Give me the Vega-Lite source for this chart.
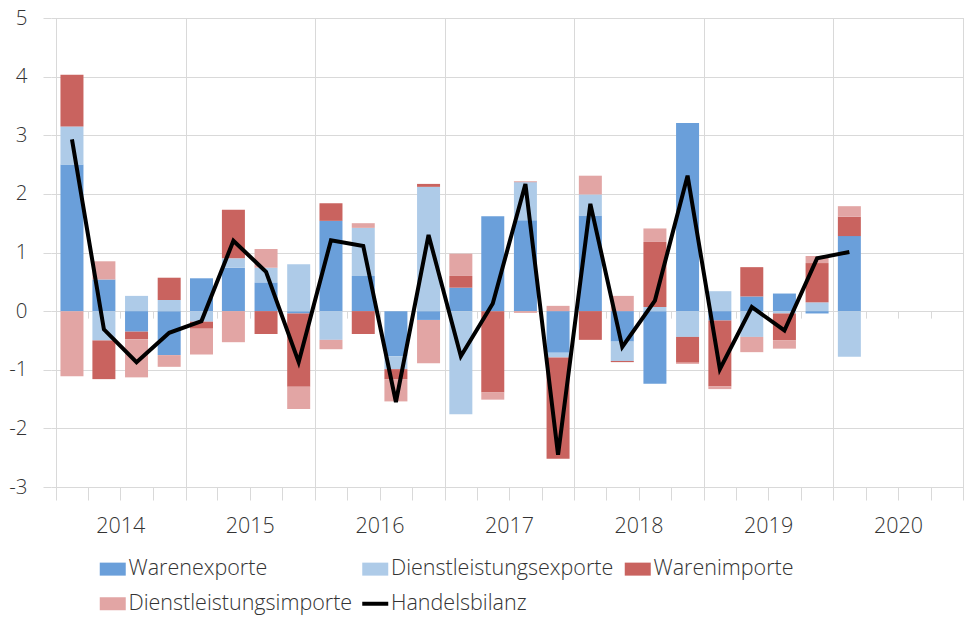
{
  "$schema": "https://vega.github.io/schema/vega-lite/v6.json",
  "width": 913,
  "height": 469,
  "autosize": {"type": "none"},
  "padding": {"left": 51, "top": 18, "right": 0, "bottom": 131},
  "background": "white",
  "config": {
    "view": {"stroke": null},
    "font": "Open Sans",
    "axis": {"labelFont": "Open Sans", "labelFontSize": 20.5, "labelColor": "#333333", "labelFontWeight": 300, "title": null},
    "legend": {"labelFont": "Open Sans", "labelFontSize": 21.5, "labelColor": "#333333", "labelFontWeight": 300, "labelLimit": 500}
  },
  "datasets": {
    "stackorder": [
      {"series": "Warenexporte", "rank": 1},
      {"series": "Dienstleistungsexporte", "rank": 2},
      {"series": "Warenimporte", "rank": 3},
      {"series": "Dienstleistungsimporte", "rank": 4}
    ]
  },
  "data": {
    "values": [
      {"q": "2014-02-15", "Warenexporte": 2.50, "Dienstleistungsexporte": 0.65, "Warenimporte": 0.88, "Dienstleistungsimporte": -1.11, "Handelsbilanz": 2.93},
      {"q": "2014-05-16", "Warenexporte": 0.54, "Dienstleistungsexporte": -0.50, "Warenimporte": -0.66, "Dienstleistungsimporte": 0.31, "Handelsbilanz": -0.31},
      {"q": "2014-08-16", "Warenexporte": -0.35, "Dienstleistungsexporte": 0.26, "Warenimporte": -0.13, "Dienstleistungsimporte": -0.65, "Handelsbilanz": -0.87},
      {"q": "2014-11-16", "Warenexporte": -0.75, "Dienstleistungsexporte": 0.19, "Warenimporte": 0.38, "Dienstleistungsimporte": -0.20, "Handelsbilanz": -0.37},
      {"q": "2015-02-15", "Warenexporte": 0.56, "Dienstleistungsexporte": -0.18, "Warenimporte": -0.12, "Dienstleistungsimporte": -0.44, "Handelsbilanz": -0.17},
      {"q": "2015-05-16", "Warenexporte": 0.74, "Dienstleistungsexporte": 0.16, "Warenimporte": 0.83, "Dienstleistungsimporte": -0.53, "Handelsbilanz": 1.20},
      {"q": "2015-08-16", "Warenexporte": 0.49, "Dienstleistungsexporte": 0.25, "Warenimporte": -0.39, "Dienstleistungsimporte": 0.32, "Handelsbilanz": 0.67},
      {"q": "2015-11-16", "Warenexporte": -0.04, "Dienstleistungsexporte": 0.80, "Warenimporte": -1.25, "Dienstleistungsimporte": -0.38, "Handelsbilanz": -0.87},
      {"q": "2016-02-15", "Warenexporte": 1.54, "Dienstleistungsexporte": -0.49, "Warenimporte": 0.30, "Dienstleistungsimporte": -0.16, "Handelsbilanz": 1.21},
      {"q": "2016-05-16", "Warenexporte": 0.60, "Dienstleistungsexporte": 0.82, "Warenimporte": -0.39, "Dienstleistungsimporte": 0.08, "Handelsbilanz": 1.11},
      {"q": "2016-08-16", "Warenexporte": -0.77, "Dienstleistungsexporte": -0.22, "Warenimporte": -0.17, "Dienstleistungsimporte": -0.38, "Handelsbilanz": -1.55},
      {"q": "2016-11-16", "Warenexporte": -0.15, "Dienstleistungsexporte": 2.12, "Warenimporte": 0.05, "Dienstleistungsimporte": -0.74, "Handelsbilanz": 1.30},
      {"q": "2017-02-15", "Warenexporte": 0.40, "Dienstleistungsexporte": -1.76, "Warenimporte": 0.20, "Dienstleistungsimporte": 0.38, "Handelsbilanz": -0.77},
      {"q": "2017-05-16", "Warenexporte": 1.62, "Dienstleistungsexporte": 0.00, "Warenimporte": -1.39, "Dienstleistungsimporte": -0.12, "Handelsbilanz": 0.13},
      {"q": "2017-08-16", "Warenexporte": 1.55, "Dienstleistungsexporte": 0.65, "Warenimporte": 0.01, "Dienstleistungsimporte": -0.03, "Handelsbilanz": 2.17},
      {"q": "2017-11-16", "Warenexporte": -0.71, "Dienstleistungsexporte": -0.08, "Warenimporte": -1.73, "Dienstleistungsimporte": 0.09, "Handelsbilanz": -2.45},
      {"q": "2018-02-15", "Warenexporte": 1.63, "Dienstleistungsexporte": 0.36, "Warenimporte": -0.49, "Dienstleistungsimporte": 0.32, "Handelsbilanz": 1.83},
      {"q": "2018-05-16", "Warenexporte": -0.52, "Dienstleistungsexporte": -0.33, "Warenimporte": -0.02, "Dienstleistungsimporte": 0.26, "Handelsbilanz": -0.61},
      {"q": "2018-08-16", "Warenexporte": -1.24, "Dienstleistungsexporte": 0.07, "Warenimporte": 1.11, "Dienstleistungsimporte": 0.23, "Handelsbilanz": 0.18},
      {"q": "2018-11-16", "Warenexporte": 3.21, "Dienstleistungsexporte": -0.44, "Warenimporte": -0.44, "Dienstleistungsimporte": -0.02, "Handelsbilanz": 2.31},
      {"q": "2019-02-15", "Warenexporte": -0.16, "Dienstleistungsexporte": 0.34, "Warenimporte": -1.12, "Dienstleistungsimporte": -0.05, "Handelsbilanz": -0.99},
      {"q": "2019-05-16", "Warenexporte": 0.25, "Dienstleistungsexporte": -0.44, "Warenimporte": 0.50, "Dienstleistungsimporte": -0.26, "Handelsbilanz": 0.07},
      {"q": "2019-08-16", "Warenexporte": 0.30, "Dienstleistungsexporte": -0.04, "Warenimporte": -0.46, "Dienstleistungsimporte": -0.14, "Handelsbilanz": -0.33},
      {"q": "2019-11-16", "Warenexporte": -0.04, "Dienstleistungsexporte": 0.15, "Warenimporte": 0.67, "Dienstleistungsimporte": 0.12, "Handelsbilanz": 0.90},
      {"q": "2020-02-15", "Warenexporte": 1.28, "Dienstleistungsexporte": -0.78, "Warenimporte": 0.33, "Dienstleistungsimporte": 0.18, "Handelsbilanz": 1.01}
    ]
  },
  "layer": [
    {
      "transform": [
        {"fold": ["Warenexporte", "Dienstleistungsexporte", "Warenimporte", "Dienstleistungsimporte"], "as": ["series", "value"]},
        {"lookup": "series", "from": {"data": {"name": "stackorder"}, "key": "series", "fields": ["rank"]}}
      ],
      "mark": {"type": "bar", "width": 23},
      "encoding": {
        "x": {
          "field": "q", "type": "temporal",
          "scale": {"type": "utc", "domain": [{"year": 2014, "month": 1, "date": 1, "utc": true}, {"year": 2020, "month": 12, "date": 20, "utc": true}]},
          "axis": {
            "orient": "bottom",
            "values": [
              {"year": 2014, "month": 4, "date": 1, "utc": true}, {"year": 2014, "month": 7, "date": 1, "utc": true}, {"year": 2014, "month": 10, "date": 1, "utc": true},
              {"year": 2015, "month": 1, "date": 1, "utc": true}, {"year": 2015, "month": 4, "date": 1, "utc": true}, {"year": 2015, "month": 7, "date": 1, "utc": true}, {"year": 2015, "month": 10, "date": 1, "utc": true},
              {"year": 2016, "month": 1, "date": 1, "utc": true}, {"year": 2016, "month": 4, "date": 1, "utc": true}, {"year": 2016, "month": 7, "date": 1, "utc": true}, {"year": 2016, "month": 10, "date": 1, "utc": true},
              {"year": 2017, "month": 1, "date": 1, "utc": true}, {"year": 2017, "month": 4, "date": 1, "utc": true}, {"year": 2017, "month": 7, "date": 1, "utc": true}, {"year": 2017, "month": 10, "date": 1, "utc": true},
              {"year": 2018, "month": 1, "date": 1, "utc": true}, {"year": 2018, "month": 4, "date": 1, "utc": true}, {"year": 2018, "month": 7, "date": 1, "utc": true}, {"year": 2018, "month": 10, "date": 1, "utc": true},
              {"year": 2019, "month": 1, "date": 1, "utc": true}, {"year": 2019, "month": 4, "date": 1, "utc": true}, {"year": 2019, "month": 7, "date": 1, "utc": true}, {"year": 2019, "month": 10, "date": 1, "utc": true},
              {"year": 2020, "month": 1, "date": 1, "utc": true}, {"year": 2020, "month": 4, "date": 1, "utc": true}, {"year": 2020, "month": 7, "date": 1, "utc": true}, {"year": 2020, "month": 10, "date": 1, "utc": true}
            ],
            "offset": -175.9, "tickSize": 7, "tickColor": "#d9d9d9", "labels": false, "domain": false, "grid": false, "title": null
          }
        },
        "y": {
          "field": "value", "type": "quantitative", "stack": "zero",
          "scale": {"domain": [-3, 5], "nice": false, "zero": false},
          "axis": {
            "values": [-3, -2, -1, 0, 1, 2, 3, 4, 5], "tickSize": 8, "tickColor": "#d9d9d9", "grid": true, "gridColor": "#d9d9d9",
            "domain": false, "labelPadding": 16, "title": null,
            "labelExpr": "datum.value < 0 ? '-' + abs(datum.value) : '' + datum.value"
          }
        },
        "order": {"field": "rank", "type": "quantitative"},
        "color": {
          "field": "series", "type": "nominal",
          "scale": {
            "domain": ["Warenexporte", "Dienstleistungsexporte", "Warenimporte", "Dienstleistungsimporte", "Handelsbilanz"],
            "range": ["#6a9fda", "#aecbe8", "#c9635f", "#e2a5a4", "#000000"]
          },
          "legend": {
            "title": null, "orient": "none", "legendX": 51, "legendY": 540, "direction": "horizontal", "columns": 3,
            "gridAlign": "all", "columnPadding": 0.5, "rowPadding": 12, "padding": 0,
            "symbolSize": 676, "symbolOffset": 0, "labelOffset": 5,
            "encode": {
              "symbols": {
                "update": {
                  "shape": {"signal": "datum.value === 'Handelsbilanz' ? 'M-1,0H1' : 'M-1,-0.5H1V0.5H-1Z'"},
                  "fill": {"scale": "color", "field": "value"},
                  "stroke": {"scale": "color", "field": "value"},
                  "strokeWidth": {"signal": "datum.value === 'Handelsbilanz' ? 4 : 0"},
                  "opacity": {"value": 1},
                  "fillOpacity": {"value": 1},
                  "strokeOpacity": {"value": 1}
                }
              }
            }
          }
        }
      }
    },
    {
      "mark": {"type": "line", "strokeWidth": 4, "strokeJoin": "miter"},
      "encoding": {
        "x": {
          "field": "q", "type": "temporal",
          "axis": {
            "orient": "bottom",
            "values": [
              {"year": 2014, "month": 1, "date": 1, "utc": true}, {"year": 2014, "month": 4, "date": 1, "utc": true}, {"year": 2014, "month": 7, "date": 1, "utc": true}, {"year": 2014, "month": 10, "date": 1, "utc": true},
              {"year": 2015, "month": 1, "date": 1, "utc": true}, {"year": 2015, "month": 4, "date": 1, "utc": true}, {"year": 2015, "month": 7, "date": 1, "utc": true}, {"year": 2015, "month": 10, "date": 1, "utc": true},
              {"year": 2016, "month": 1, "date": 1, "utc": true}, {"year": 2016, "month": 4, "date": 1, "utc": true}, {"year": 2016, "month": 7, "date": 1, "utc": true}, {"year": 2016, "month": 10, "date": 1, "utc": true},
              {"year": 2017, "month": 1, "date": 1, "utc": true}, {"year": 2017, "month": 4, "date": 1, "utc": true}, {"year": 2017, "month": 7, "date": 1, "utc": true}, {"year": 2017, "month": 10, "date": 1, "utc": true},
              {"year": 2018, "month": 1, "date": 1, "utc": true}, {"year": 2018, "month": 4, "date": 1, "utc": true}, {"year": 2018, "month": 7, "date": 1, "utc": true}, {"year": 2018, "month": 10, "date": 1, "utc": true},
              {"year": 2019, "month": 1, "date": 1, "utc": true}, {"year": 2019, "month": 4, "date": 1, "utc": true}, {"year": 2019, "month": 7, "date": 1, "utc": true}, {"year": 2019, "month": 10, "date": 1, "utc": true},
              {"year": 2020, "month": 1, "date": 1, "utc": true}, {"year": 2020, "month": 4, "date": 1, "utc": true}, {"year": 2020, "month": 7, "date": 1, "utc": true}, {"year": 2020, "month": 10, "date": 1, "utc": true},
              {"year": 2021, "month": 1, "date": 1, "utc": true}
            ],
            "tickSize": 13, "tickColor": "#d9d9d9", "grid": true, "gridColor": "#d9d9d9", "domain": false,
            "gridOpacity": {"condition": {"test": "utcmonth(datum.value) == 0", "value": 1}, "value": 0},
            "labelExpr": "utcmonth(datum.value) == 6 ? utcFormat(datum.value, '%Y') : ''",
            "labelFontSize": 21.5,
            "labelOverlap": false, "labelFlush": false, "labelBound": false, "labelPadding": 15, "title": null,
            "encode": {
              "ticks": {"update": {"y2": {"signal": "utcmonth(datum.value) == 0 ? 53 : 13"}}}
            }
          }
        },
        "y": {"field": "Handelsbilanz", "type": "quantitative", "axis": {"title": null}},
        "color": {"datum": "Handelsbilanz"}
      }
    }
  ],
  "resolve": {"axis": {"x": "independent"}}
}
